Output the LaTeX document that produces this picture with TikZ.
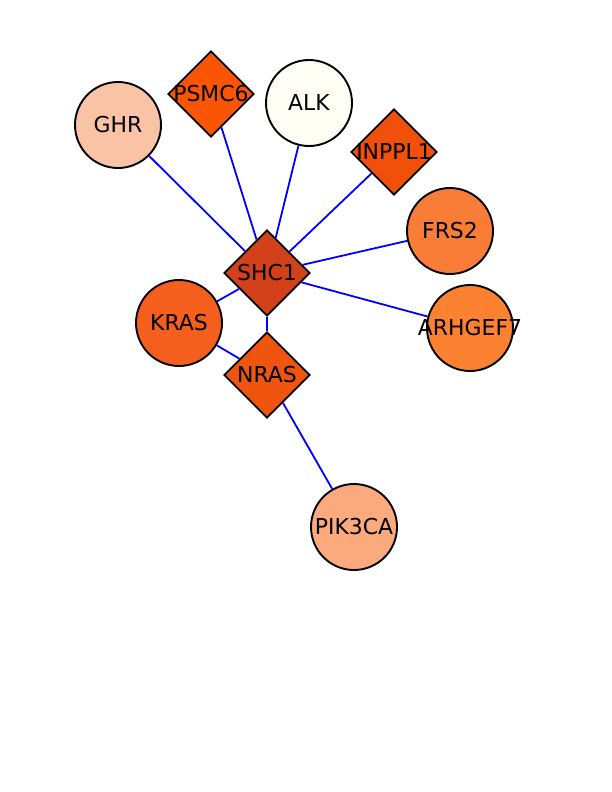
\documentclass[tikz,border=0pt]{standalone}
\usepackage{fontspec}
\setmainfont{DejaVu Sans}
\usetikzlibrary{shapes.geometric}
\definecolor{ghrcol}{RGB}{250,195,165}
\definecolor{psmccol}{RGB}{250,85,5}
\definecolor{alkcol}{RGB}{255,255,245}
\definecolor{inppcol}{RGB}{240,80,10}
\definecolor{frscol}{RGB}{250,125,55}
\definecolor{shccol}{RGB}{210,65,25}
\definecolor{krascol}{RGB}{245,95,30}
\definecolor{nrascol}{RGB}{240,85,15}
\definecolor{arhcol}{RGB}{252,130,50}
\definecolor{pikcol}{RGB}{250,170,125}
\begin{document}
\begin{tikzpicture}[x=1bp, y=-1bp,
roundnode/.style={circle, draw=black, line width=1.9bp, minimum size=86bp, inner sep=0pt},
diamondnode/.style={diamond, draw=black, line width=1.9bp, minimum size=86bp, inner sep=0pt},
link/.style={draw=blue, line width=1.8bp},
every label/.style={font=\fontsize{22}{22}\selectfont, text=black, inner sep=0pt},
]
\useasboundingbox (0,0) rectangle (612,792);
%Nodes
\node[roundnode, fill=ghrcol, label={center:GHR}]         (ghr)   at (118,125) {};
\node[diamondnode, fill=psmccol, label={center:PSMC6}]    (psmc6) at (211,94)  {};
\node[roundnode, fill=alkcol, label={center:ALK}]         (alk)   at (309,103) {};
\node[diamondnode, fill=inppcol, label={center:INPPL1}]   (inppl1) at (394,152) {};
\node[roundnode, fill=frscol, label={center:FRS2}]        (frs2)  at (450,231) {};
\node[diamondnode, fill=shccol, label={center:SHC1}]      (shc1)  at (267,273) {};
\node[roundnode, fill=krascol, label={center:KRAS}]       (kras)  at (179,323) {};
\node[diamondnode, fill=nrascol, label={center:NRAS}]     (nras)  at (267,375) {};
\node[roundnode, fill=arhcol, label={center:ARHGEF7}]     (arhgef7) at (470,328) {};
\node[roundnode, fill=pikcol, label={center:PIK3CA}]      (pik3ca) at (354,527) {};

%Lines
\draw[link] (shc1) -- (ghr);
\draw[link] (shc1) -- (psmc6);
\draw[link] (shc1) -- (alk);
\draw[link] (shc1) -- (inppl1);
\draw[link] (shc1) -- (frs2);
\draw[link] (shc1) -- (arhgef7);
\draw[link] (shc1) -- (kras);
\draw[link] (shc1) -- (nras);
\draw[link] (nras) -- (kras);
\draw[link] (nras) -- (pik3ca);
\end{tikzpicture}
\end{document}
